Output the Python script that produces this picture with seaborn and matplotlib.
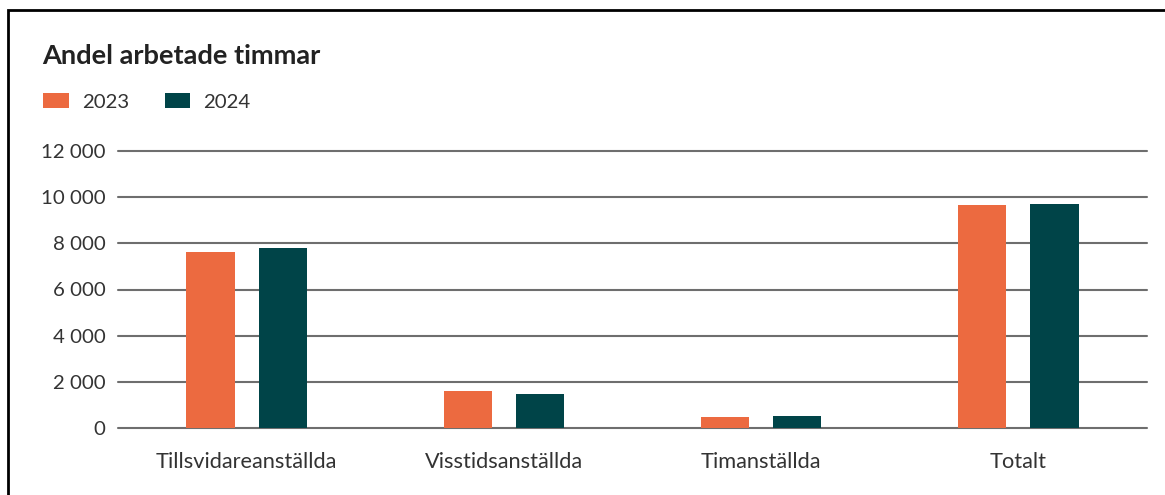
import matplotlib
matplotlib.use("Agg")
import matplotlib.pyplot as plt
import seaborn as sns
import pandas as pd
from matplotlib.patches import Rectangle, Patch

categories = ["Tillsvidareanställda", "Visstidsanställda", "Timanställda", "Totalt"]
years = ["2023", "2024"]
values_2023 = [7640, 1620, 460, 9650]
values_2024 = [7800, 1470, 530, 9700]
yticks = [0, 2000, 4000, 6000, 8000, 10000, 12000]
ytick_labels = ["0", "2 000", "4 000", "6 000", "8 000", "10 000", "12 000"]
colors = ["#EC6A40", "#004448"]

df = pd.DataFrame({
    "Kategori": categories * 2,
    "År": [years[0]] * 4 + [years[1]] * 4,
    "Timmar": values_2023 + values_2024,
})

sns.set_theme(style="white")
plt.rcParams["font.family"] = ["Lato", "DejaVu Sans"]
text_color = "#333333"

W, H = 1165, 495
fig = plt.figure(figsize=(W / 100, H / 100), dpi=100)
ax = fig.add_axes([118 / W, (H - 428) / H, (1147 - 118) / W, (428 - 151) / H])

sns.barplot(data=df, x="Kategori", y="Timmar", hue="År", palette=colors,
            width=0.56, gap=0.33, ax=ax, legend=False, saturation=1,
            edgecolor="none", linewidth=0)

ax.set_ylim(0, 12000)
ax.set_xlim(-0.5, 3.5)
ax.set_yticks(yticks)
ax.set_yticklabels(ytick_labels)
ax.yaxis.grid(True, color="#6e6e6e", linewidth=1.5)
ax.set_axisbelow(True)
for s in ax.spines.values():
    s.set_visible(False)
ax.set_xlabel("")
ax.set_ylabel("")
ax.tick_params(axis="y", length=0, pad=9, labelsize=14.7, labelcolor=text_color)
ax.tick_params(axis="x", length=0, pad=17, labelsize=15.7, labelcolor=text_color)
for gl in ax.get_ygridlines():
    gl.set_clip_on(False)

fig.text(42 / W, 1 - 56 / H, "Andel arbetade timmar", fontsize=19.6, fontweight="bold",
         color="#222222", va="center", ha="left")

handles = [Patch(facecolor=c, edgecolor="none") for c in colors]
fig.legend(handles, years, loc="center left", bbox_to_anchor=(43 / W, 1 - 102 / H),
           ncol=2, frameon=False, fontsize=14.7, handlelength=1.25, handleheight=0.72,
           handletextpad=0.65, columnspacing=1.75, borderpad=0, borderaxespad=0,
           labelcolor=text_color)

fig.add_artist(Rectangle((8 / W, -0.1), 1.2, 1 - 10 / H + 0.1, transform=fig.transFigure,
                         fill=False, edgecolor="black", linewidth=2))

fig.savefig("out.png", dpi=100)
